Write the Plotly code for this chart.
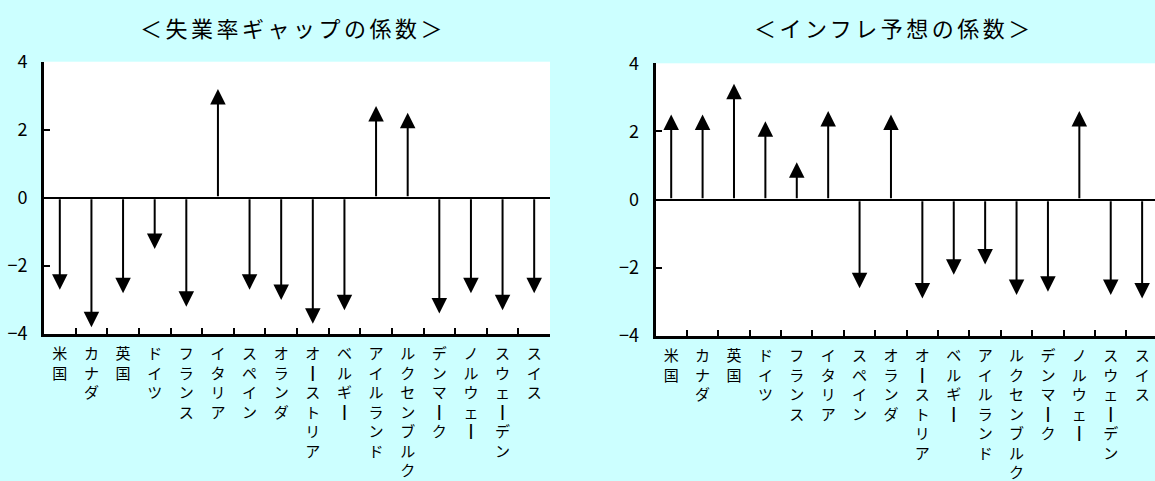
import plotly.graph_objects as go

# Countries (same order in both panels)
countries = ["米国", "カナダ", "英国", "ドイツ", "フランス", "イタリア", "スペイン", "オランダ",
             "オーストリア", "ベルギー", "アイルランド", "ルクセンブルク", "デンマーク",
             "ノルウェー", "スウェーデン", "スイス"]

# Coefficient on the unemployment gap
unemp_gap_coef = [-2.7, -3.8, -2.8, -1.5, -3.2, 3.2, -2.7, -3.0,
                  -3.7, -3.3, 2.7, 2.5, -3.4, -2.8, -3.3, -2.8]

# Coefficient on inflation expectations
infl_exp_coef = [2.5, 2.5, 3.4, 2.3, 1.1, 2.6, -2.6, 2.5,
                 -2.9, -2.2, -1.9, -2.8, -2.7, 2.6, -2.8, -2.9]

titles = ["＜失業率ギャップの係数＞", "＜インフレ予想の係数＞"]
y_ticks = [-4, -2, 0, 2, 4]

W, H = 1155, 481
BG = "#CCFFFF"
JP = "Noto Sans CJK JP"


def vertical(label):
    # stack characters top-to-bottom; long vowel mark drawn as a vertical bar
    return "<br>".join("┃" if ch == "ー" else ch for ch in label)


fig = go.Figure()

panels = [
    dict(vals=unemp_gap_coef, xd=(44, 550), yd=(61.7, 334), xr=(-0.5, 15.5),
         title_x=293),
    dict(vals=infl_exp_coef, xd=(655.5, 1155), yd=(63.3, 336), xr=(-0.5, 15.41),
         title_x=894),
]

annotations = []
for k, p in enumerate(panels):
    sfx = "" if k == 0 else str(k + 1)
    xa, ya = "x" + sfx, "y" + sfx

    # invisible trace to register the categories and values on the axes
    fig.add_trace(go.Scatter(x=countries, y=p["vals"], mode="markers",
                             marker=dict(opacity=0), hoverinfo="skip",
                             showlegend=False, xaxis=xa, yaxis=ya))

    axis_x = dict(
        domain=[p["xd"][0] / W, p["xd"][1] / W], anchor=ya,
        type="category", categoryorder="array", categoryarray=countries,
        range=list(p["xr"]), automargin=False,
        tickmode="array", tickvals=countries,
        ticktext=[vertical(c) for c in countries],
        tickson="boundaries", ticks="inside", ticklen=6, tickwidth=2,
        tickcolor="black", tickangle=0, ticklabelstandoff=4,
        tickfont=dict(family=JP, size=15, color="black"),
        showline=True, linecolor="black", linewidth=3,
        showgrid=False, zeroline=False, fixedrange=True,
    )
    axis_y = dict(
        domain=[1 - p["yd"][1] / H, 1 - p["yd"][0] / H], anchor=xa,
        range=[-4, 4], tickvals=y_ticks, automargin=False,
        ticks="inside", ticklen=6, tickwidth=2, tickcolor="black",
        ticklabelstandoff=10,
        tickfont=dict(family="Liberation Sans Narrow, " + JP, size=18, color="black"),
        showline=True, linecolor="black", linewidth=3,
        showgrid=False, zeroline=True, zerolinecolor="black", zerolinewidth=2,
        fixedrange=True,
    )
    fig.update_layout({"xaxis" + sfx: axis_x, "yaxis" + sfx: axis_y})

    # arrows from zero to each coefficient
    for i, v in enumerate(p["vals"]):
        annotations.append(dict(
            x=i, y=v, ax=i, ay=0, xref=xa, yref=ya, axref=xa, ayref=ya,
            text="", showarrow=True, arrowhead=2, arrowsize=1.55,
            arrowwidth=2, arrowcolor="black", standoff=0, startstandoff=0,
        ))

    annotations.append(dict(
        x=p["title_x"] / W, y=1 - 27 / H, xref="paper", yref="paper",
        xanchor="center", yanchor="middle", showarrow=False,
        text='<span style="letter-spacing:3.5px">' + titles[k] + "</span>",
        font=dict(family=JP, size=22, color="black"),
    ))

fig.update_layout(
    width=W, height=H, margin=dict(l=0, r=0, t=0, b=0),
    paper_bgcolor=BG, plot_bgcolor="white",
    annotations=annotations, showlegend=False,
)

fig.write_html("out.html", config={"displayModeBar": False})
